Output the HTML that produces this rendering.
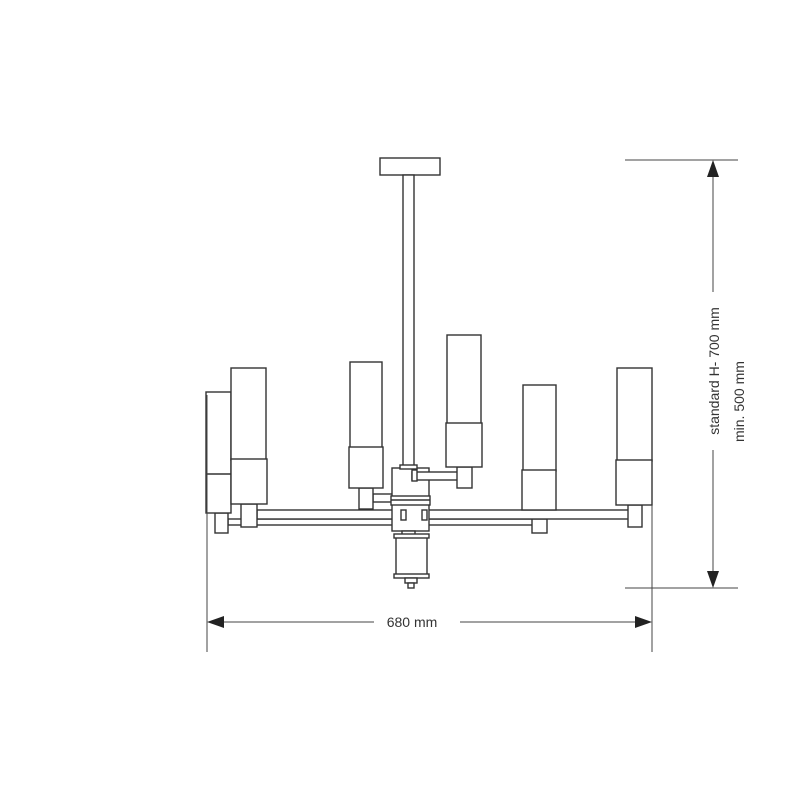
<!DOCTYPE html>
<html><head><meta charset="utf-8"><style>
html,body{margin:0;padding:0;background:#fff;}
svg{display:block;}
text{font-family:"Liberation Sans",sans-serif;font-size:14px;fill:#333;}
</style></head><body>
<svg width="800" height="800" viewBox="0 0 800 800" xmlns="http://www.w3.org/2000/svg">
<g fill="#fff" stroke="#333" stroke-width="1.4">
<rect x="380" y="158" width="60" height="17"/>
<rect x="403" y="175" width="11" height="293"/>
<rect x="228" y="519" width="168" height="6"/>
<rect x="425" y="519" width="112" height="6"/>
<rect x="532" y="519" width="15" height="14"/>
<rect x="257" y="510" width="141" height="9"/>
<rect x="425" y="510" width="205" height="9"/>
<rect x="215" y="513" width="13" height="20"/>
<rect x="206" y="392" width="25" height="121"/>
<line x1="206" y1="474" x2="231" y2="474"/>
<rect x="241" y="504" width="16" height="23"/>
<rect x="231" y="368" width="35" height="92"/>
<rect x="231" y="459" width="36" height="45"/>
<rect x="373" y="494" width="20" height="8"/>
<rect x="359" y="488" width="14" height="21"/>
<rect x="350" y="362" width="32" height="86"/>
<rect x="349" y="447" width="34" height="41"/>
<rect x="392" y="468" width="37" height="63"/>
<rect x="391" y="496" width="39" height="9"/>
<line x1="391" y1="500" x2="430" y2="500"/>
<rect x="400" y="465" width="17" height="4"/>
<rect x="401" y="510" width="5" height="10"/>
<rect x="422" y="510" width="5" height="10"/>
<rect x="402" y="531" width="13" height="4"/>
<rect x="396" y="537" width="31" height="38"/>
<rect x="394" y="534" width="35" height="4"/>
<rect x="394" y="574" width="35" height="4"/>
<rect x="405" y="578" width="12" height="5"/>
<rect x="408" y="583" width="6" height="5"/>
<rect x="412" y="472" width="48" height="8"/>
<rect x="412" y="470" width="5" height="11"/>
<rect x="457" y="467" width="15" height="21"/>
<rect x="447" y="335" width="34" height="89"/>
<rect x="446" y="423" width="36" height="44"/>
<rect x="523" y="385" width="33" height="86"/>
<rect x="522" y="470" width="34" height="40"/>
<rect x="628" y="505" width="14" height="22"/>
<rect x="617" y="368" width="35" height="93"/>
<rect x="616" y="460" width="36" height="45"/>
</g>
<g stroke="#444" stroke-width="1" fill="none">
<line x1="625" y1="160" x2="738" y2="160"/>
<line x1="625" y1="588" x2="738" y2="588"/>
<line x1="713" y1="175" x2="713" y2="292"/>
<line x1="713" y1="450" x2="713" y2="573"/>
<line x1="207" y1="395" x2="207" y2="652"/>
<line x1="652" y1="505" x2="652" y2="652"/>
<line x1="222" y1="622" x2="374" y2="622"/>
<line x1="460" y1="622" x2="637" y2="622"/>
</g>
<g fill="#222">
<polygon points="713,160 707,177 719,177"/>
<polygon points="713,588 707,571 719,571"/>
<polygon points="207,622 224,616 224,628"/>
<polygon points="652,622 635,616 635,628"/>
</g>
<text x="412" y="627" text-anchor="middle">680 mm</text>
<text transform="translate(719,371) rotate(-90)" text-anchor="middle">standard H- 700 mm</text>
<text transform="translate(744,442) rotate(-90)" text-anchor="start">min. 500 mm</text>
</svg>
</body></html>
